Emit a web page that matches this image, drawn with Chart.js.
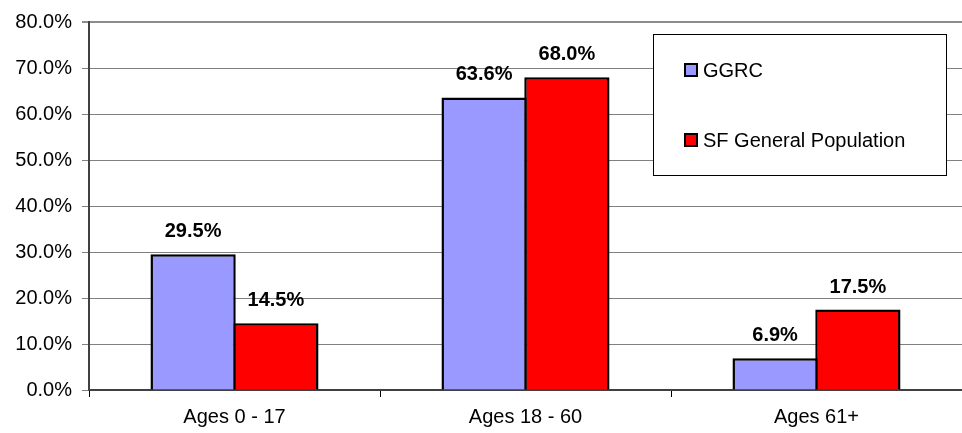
<!DOCTYPE html>
<html>
<head>
<meta charset="utf-8">
<script src="https://cdn.jsdelivr.net/npm/chart.js@4.4.1/dist/chart.umd.min.js"></script>
<style>
  body { margin: 0; background: #fff; }
  #wrap { width: 962px; height: 433px; }
</style>
</head>
<body>
<div id="wrap"><canvas id="chart"></canvas></div>
<script>
// age groups and share of each population
const categories = ['Ages 0 - 17', 'Ages 18 - 60', 'Ages 61+'];
const ggrc = [29.5, 63.6, 6.9];
const sfPop = [14.5, 68.0, 17.5];
const seriesNames = ['GGRC', 'SF General Population'];
const yTicks = [0, 10, 20, 30, 40, 50, 60, 70, 80];

const FONT = 'Liberation Sans, Arial, sans-serif';

// bold value above each bar
const valueLabels = {
  id: 'valueLabels',
  afterDatasetsDraw(chart) {
    const ctx = chart.ctx;
    ctx.save();
    ctx.font = 'bold 20px ' + FONT;
    ctx.fillStyle = '#000';
    ctx.textAlign = 'center';
    ctx.textBaseline = 'alphabetic';
    chart.data.datasets.forEach((ds, i) => {
      chart.getDatasetMeta(i).data.forEach((bar, j) => {
        ctx.fillText(ds.data[j].toFixed(1) + '%', bar.x, bar.y - 17);
      });
    });
    ctx.restore();
  }
};

// boxed legend sitting over the plot, top right
const boxLegend = {
  id: 'boxLegend',
  afterDraw(chart) {
    const ctx = chart.ctx;
    const x0 = 653, y0 = 34, w = 294, h = 142;
    ctx.save();
    ctx.fillStyle = '#fff';
    ctx.fillRect(x0, y0, w, h);
    ctx.strokeStyle = '#000';
    ctx.lineWidth = 1;
    ctx.strokeRect(x0 + 0.5, y0 + 0.5, w - 1, h - 1);
    ctx.font = '20px ' + FONT;
    ctx.textBaseline = 'middle';
    ctx.textAlign = 'left';
    chart.data.datasets.forEach((ds, i) => {
      const cy = 70 + i * 70;
      ctx.fillStyle = ds.backgroundColor;
      ctx.fillRect(684, cy - 7, 14, 14);
      ctx.strokeStyle = '#000';
      ctx.lineWidth = 2;
      ctx.strokeRect(685, cy - 6, 12, 12);
      ctx.fillStyle = '#000';
      ctx.fillText(ds.label, 703, cy + 1);
    });
    ctx.restore();
  }
};

new Chart(document.getElementById('chart'), {
  type: 'bar',
  data: {
    labels: categories,
    datasets: [
      { label: seriesNames[0], data: ggrc, backgroundColor: '#9999FF', borderColor: '#000', borderWidth: 2.5 },
      { label: seriesNames[1], data: sfPop, backgroundColor: '#FF0000', borderColor: '#000', borderWidth: 2.5 }
    ]
  },
  options: {
    responsive: true,
    maintainAspectRatio: false,
    animation: false,
    layout: { padding: { top: 22, right: 0, left: 0, bottom: 0 } },
    // bars in a group share their middle edge
    datasets: { bar: { categoryPercentage: 0.569, barPercentage: 1.03 } },
    plugins: {
      legend: { display: false },
      tooltip: { enabled: false }
    },
    scales: {
      x: {
        grid: { drawOnChartArea: false, drawTicks: true, tickLength: 7, color: '#000', lineWidth: 1 },
        border: { color: '#404040', width: 2 },
        ticks: { color: '#000', font: { family: FONT, size: 20 }, padding: 8 },
        afterFit: (s) => { s.height = 43; }
      },
      y: {
        min: 0,
        max: 80,
        afterBuildTicks: (s) => { s.ticks = yTicks.map(v => ({ value: v })); },
        grid: {
          color: (c) => c.tick && c.tick.value === 80 ? '#8c8c8c' : '#808080',
          lineWidth: (c) => c.tick && c.tick.value === 80 ? 2 : 1,
          tickLength: 7
        },
        border: { color: '#404040', width: 2 },
        ticks: {
          color: '#000',
          font: { family: FONT, size: 20 },
          padding: 10,
          callback: (v) => v.toFixed(1) + '%'
        },
        afterFit: (s) => { s.width = 89; }
      }
    }
  },
  plugins: [valueLabels, boxLegend]
});
</script>
</body>
</html>
